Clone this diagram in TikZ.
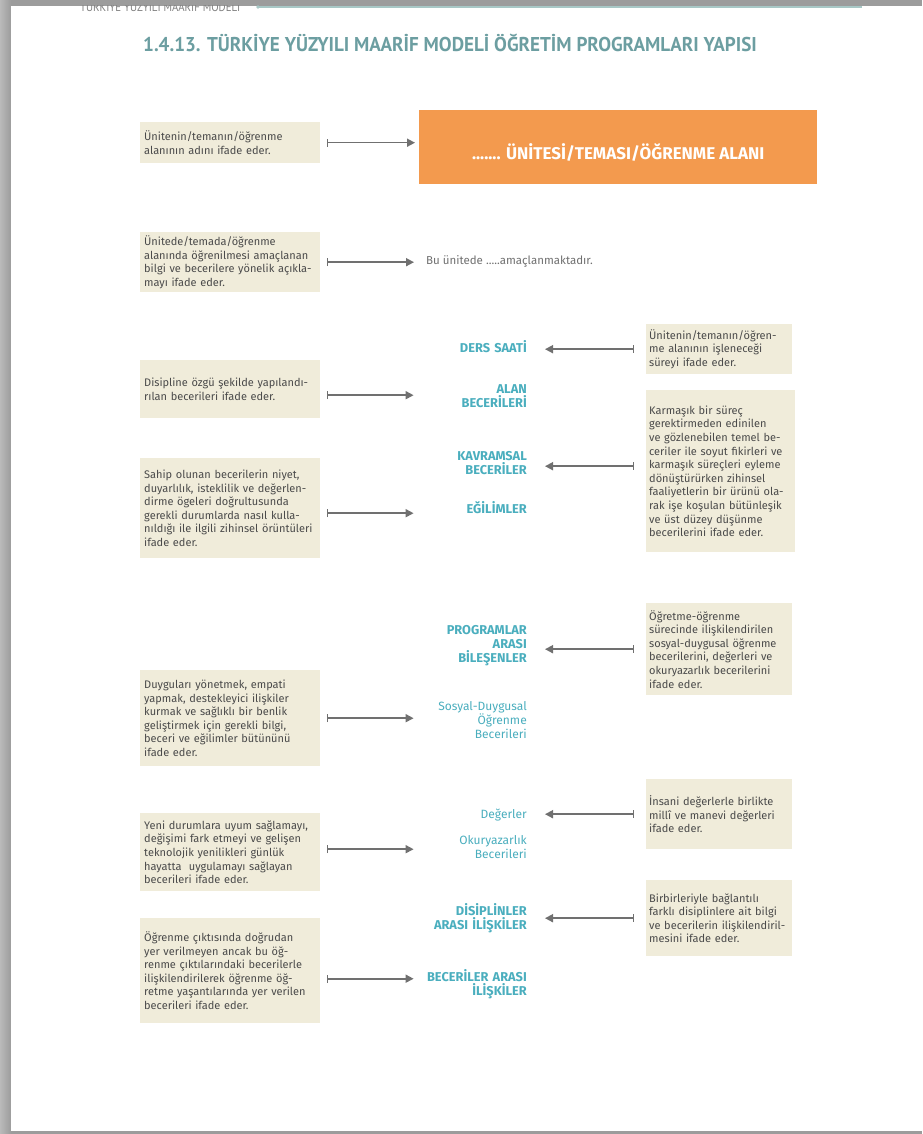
\documentclass[tikz,border=0pt]{standalone}
\usepackage{fontspec}
\setmainfont{Fira Sans}
\newfontfamily\titlefont[FakeStretch=0.955]{PT Sans}
\newfontfamily\headfont[FakeStretch=0.9]{PT Sans}
\usetikzlibrary{positioning,arrows.meta,calc}

\definecolor{boxbg}{HTML}{F0ECDA}
\definecolor{unitorange}{HTML}{F39A4E}
\definecolor{labteal}{HTML}{4AAEBE}
\definecolor{titleteal}{HTML}{6C9EA1}
\definecolor{arrowgray}{HTML}{707070}
\definecolor{bodygray}{HTML}{4A4A4A}
\definecolor{framegray}{HTML}{9C9C9C}
\definecolor{headline}{HTML}{A8C8C6}

\begin{document}
\begin{tikzpicture}[x=1pt,y=-1pt,
    desc/.style={fill=boxbg, text=bodygray, anchor=north west, align=left,
        text width=172pt, inner xsep=4pt, inner ysep=3pt,
        font=\fontsize{11}{13.6}\selectfont},
    rdesc/.style={desc, text width=140pt, inner xsep=3pt},
    lab/.style={anchor=east, align=right, text width=112pt, inner sep=0pt,
        text=labteal, font=\fontsize{12.8}{14}\selectfont\bfseries},
    labn/.style={lab, font=\fontsize{12}{14}\selectfont},
    conn/.style={draw=arrowgray, line width=1.6pt,
        {Bar[width=8pt,line width=1pt]}-{Triangle[length=8pt,width=8pt]},
        shorten <=7pt, shorten >=1pt},
    rconn/.style={conn, shorten <=12pt, shorten >=18pt}]

    \useasboundingbox (0,0) rectangle (922,1134);

    % page frame
    \fill[framegray] (0,0) rectangle (922,1134);
    \shade[left color=framegray!70, right color=framegray] (0,0) rectangle (11,1134);
    \fill[white] (11,6) rectangle (922,1131);

    % running head, cut off at the top of the page
    \begin{scope}
        \clip (11,6) rectangle (922,1131);
        \node[anchor=base west, inner sep=0pt, text=gray, font=\headfont\fontsize{12}{13}\selectfont] (head) at (80,12) {TÜRKİYE YÜZYILI MAARİF MODELİ};
    \end{scope}
    \draw[headline, line width=1.2pt] (258,7) -- (862,7);
    \fill[headline] (258,7) circle (1.8);

    % title
    \node[anchor=west, inner sep=0pt, text=titleteal] (title) at (143,43)
        {\titlefont\bfseries\fontsize{20}{22}\selectfont 1.4.13. TÜRKİYE YÜZYILI MAARİF MODELİ ÖĞRETİM PROGRAMLARI YAPISI};

    % unit heading
    \node[fill=unitorange, anchor=north west, minimum width=398pt, minimum height=74pt, inner sep=0pt] (unit) at (419,110) {};
    \node[text=white, font=\fontsize{17}{18}\selectfont\bfseries] (unittext) at ([yshift=-5pt]unit.center) {....... ÜNİTESİ/TEMASI/ÖĞRENME ALANI};
    \node[anchor=west, inner sep=0pt, text=arrowgray, font=\fontsize{11.5}{13.6}\selectfont] (aim) at (426,261) {Bu ünitede .....amaçlanmaktadır.};

    % middle column
    \node[lab] (DERS) at (527,347) {DERS SAATİ};
    \node[lab] (ALAN) at (527,396) {ALAN\\BECERİLERİ};
    \node[lab] (KAVR) at (527,463) {KAVRAMSAL\\BECERİLER};
    \node[lab] (EGIL) at (527,508) {EĞİLİMLER};
    \node[lab] (PROG) at (527,646) {PROGRAMLAR\\ARASI\\BİLEŞENLER};
    \node[labn] (SDOB) at (527,720) {Sosyal-Duygusal\\Öğrenme\\Becerileri};
    \node[labn] (DEGR) at (527,815) {Değerler};
    \node[labn] (OKUR) at (527,847) {Okuryazarlık\\Becerileri};
    \node[lab] (DISI) at (527,918) {DİSİPLİNLER\\ARASI İLİŞKİLER};
    \node[lab] (BECA) at (527,984) {BECERİLER ARASI\\İLİŞKİLER};

    % left column
    \node[desc, minimum height=41pt] (L1) at (140,122) {Ünitenin/temanın/öğrenme\\alanının adını ifade eder.};
    \node[desc, minimum height=60pt] (L2) at (140,232) {Ünitede/temada/öğrenme\\alanında öğrenilmesi amaçlanan\\bilgi ve becerilere yönelik açıkla-\\mayı ifade eder.};
    \node[desc, minimum height=58pt] (L3) at (140,360) {Disipline özgü şekilde yapılandı-\\rılan becerileri ifade eder.};
    \node[desc, minimum height=100pt] (L4) at (140,458) {Sahip olunan becerilerin niyet,\\duyarlılık, isteklilik ve değerlen-\\dirme ögeleri doğrultusunda\\gerekli durumlarda nasıl kulla-\\nıldığı ile ilgili zihinsel örüntüleri\\ifade eder.};
    \node[desc, minimum height=96pt] (L5) at (140,670) {Duyguları yönetmek, empati\\yapmak, destekleyici ilişkiler\\kurmak ve sağlıklı bir benlik\\geliştirmek için gerekli bilgi,\\beceri ve eğilimler bütününü\\ifade eder.};
    \node[desc, minimum height=78pt] (L6) at (140,813) {Yeni durumlara uyum sağlamayı,\\değişimi fark etmeyi ve gelişen\\teknolojik yenilikleri günlük\\hayatta\ \ uygulamayı sağlayan\\becerileri ifade eder.};
    \node[desc, minimum height=105pt] (L7) at (140,918) {Öğrenme çıktısında doğrudan\\yer verilmeyen ancak bu öğ-\\renme çıktılarındaki becerilerle\\ilişkilendirilerek öğrenme öğ-\\retme yaşantılarında yer verilen\\becerileri ifade eder.};

    % right column
    \node[rdesc, minimum height=50pt] (R1) at (646,324) {Ünitenin/temanın/öğren-\\me alanının işleneceği\\süreyi ifade eder.};
    \node[rdesc, text width=143pt, minimum height=162pt] (R2) at (646,390) {Karmaşık bir süreç\\gerektirmeden edinilen\\ve gözlenebilen temel be-\\ceriler ile soyut fikirleri ve\\karmaşık süreçleri eyleme\\dönüştürürken zihinsel\\faaliyetlerin bir ürünü ola-\\rak işe koşulan bütünleşik\\ve üst düzey düşünme\\becerilerini ifade eder.};
    \node[rdesc, minimum height=92pt] (R3) at (646,603) {Öğretme-öğrenme\\sürecinde ilişkilendirilen\\sosyal-duygusal öğrenme\\becerilerini, değerleri ve\\okuryazarlık becerilerini\\ifade eder.};
    \node[rdesc, minimum height=70pt] (R4) at (646,779) {İnsani değerlerle birlikte\\millî ve manevi değerleri\\ifade eder.};
    \node[rdesc, minimum height=76pt] (R5) at (646,880) {Birbirleriyle bağlantılı\\farklı disiplinlere ait bilgi\\ve becerilerin ilişkilendiril-\\mesini ifade eder.};

    % arrows from the left
    \draw[conn, shorten >=4pt] (L1.east) -- (L1.east -| unit.west);
    \draw[conn, shorten >=12pt] (L2.east) -- (L2.east -| aim.west);
    \draw[conn] ([yshift=-6pt]L3.east) -- ([yshift=-6pt]L3.east -| ALAN.west);
    \draw[conn] ([yshift=-5pt]L4.east) -- ([yshift=-5pt]L4.east -| EGIL.west);
    \draw[conn] (L5.east) -- (L5.east -| SDOB.west);
    \draw[conn] ([yshift=3pt]L6.east) -- ([yshift=3pt]L6.east -| OKUR.west);
    \draw[conn] ([yshift=-8pt]L7.east) -- ([yshift=-8pt]L7.east -| BECA.west);

    % arrows from the right
    \draw[rconn] (R1.west) -- (R1.west -| DERS.east);
    \draw[rconn] ([yshift=5pt]R2.west) -- ([yshift=5pt]R2.west -| KAVR.east);
    \draw[rconn] (R3.west) -- (R3.west -| PROG.east);
    \draw[rconn] (R4.west) -- (R4.west -| DEGR.east);
    \draw[rconn] (R5.west) -- (R5.west -| DISI.east);
\end{tikzpicture}
\end{document}
